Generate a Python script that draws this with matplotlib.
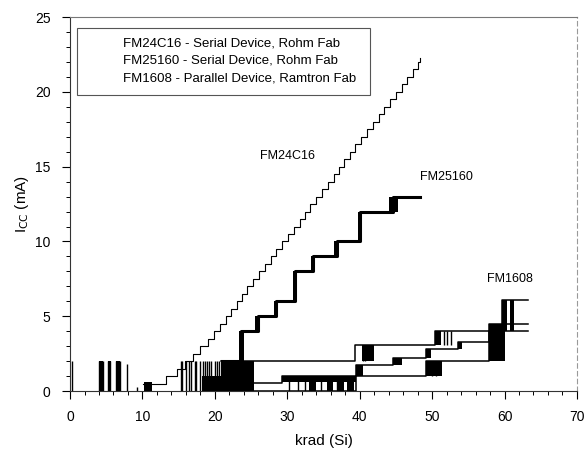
import matplotlib
matplotlib.use("Agg")
import matplotlib.pyplot as plt
from matplotlib.patches import Rectangle
from matplotlib.ticker import MultipleLocator

plt.rcParams['font.family'] = ['Liberation Sans', 'DejaVu Sans']

# FM24C16 - thin staircase (krad, mA)
fm24_x = [10.1, 13.2, 14.8, 15.9, 17.0, 18.0, 19.0, 19.9, 20.7, 21.5, 22.2, 23.0,
          23.7, 24.5, 25.3, 26.1, 26.9, 27.7, 28.5, 29.3, 30.1, 30.9, 31.7, 32.5,
          33.2, 34.0, 34.8, 35.6, 36.4, 37.1, 37.9, 38.6, 39.4, 40.2, 41.0, 41.8,
          42.6, 43.4, 44.2, 45.0, 45.8, 46.6, 47.4, 48.0, 48.3]
fm24_y = [0.5, 1.0, 1.5, 2.0, 2.5, 3.0, 3.5, 4.0, 4.5, 5.0, 5.5, 6.0,
          6.5, 7.0, 7.5, 8.0, 8.5, 9.0, 9.5, 10.0, 10.5, 11.0, 11.5, 12.0,
          12.5, 13.0, 13.5, 14.0, 14.5, 15.0, 15.5, 16.0, 16.5, 17.0, 17.5, 18.0,
          18.5, 19.0, 19.5, 20.0, 20.5, 21.0, 21.5, 22.0, 22.3]

# FM25160 - thick staircase
fm25_x = [21.0, 23.6, 25.9, 28.4, 31.0, 33.5, 36.8, 40.0, 44.6, 48.3]
fm25_y = [2.0, 4.0, 5.0, 6.0, 8.0, 9.0, 10.0, 12.0, 13.0, 13.0]

# FM1608 - three parts
p1_x = [20.8, 39.3, 50.4, 59.6, 63.3]
p1_y = [2.0, 3.07, 4.0, 6.1, 6.1]
p2_x = [25.4, 29.3, 39.5, 44.6, 49.2, 53.6, 57.8, 63.3]
p2_y = [0.55, 1.0, 1.75, 2.2, 2.8, 3.3, 4.5, 4.5]
p3_x = [25.0, 39.5, 49.2, 57.8, 63.3]
p3_y = [0.0, 1.0, 2.0, 4.0, 4.0]

# toggling noise: single spikes (x, top)
spike_x = [0.3, 4.05, 4.5, 5.3, 5.55, 6.35, 6.6, 6.85, 7.9, 9.2,
           15.3, 15.5, 16.0, 16.4, 16.7, 17.2, 17.4, 18.0, 18.3, 18.6,
           18.9, 19.2, 19.4, 20.0, 20.3, 20.6, 30.2, 31.5, 32.4, 34.6,
           36.9, 37.6, 51.6, 52.1, 52.6, 50.0, 50.6, 40.5, 40.8]
spike_top = [2.0, 2.0, 2.0, 2.0, 2.0, 2.0, 2.0, 2.0, 1.8, 0.3,
             2.0, 2.0, 2.0, 2.0, 2.0, 2.0, 2.0, 2.0, 2.0, 2.0,
             2.0, 2.0, 2.0, 2.0, 2.0, 2.0, 1.0, 1.0, 1.0, 1.0,
             1.0, 1.0, 4.0, 4.0, 4.0, 2.0, 2.0, 3.0, 3.0]
spike_bot = [0.0, 0.0, 0.0, 0.0, 0.0, 0.0, 0.0, 0.0, 0.0, 0.0,
             0.0, 0.0, 0.0, 0.0, 0.0, 0.0, 0.0, 0.0, 0.0, 0.0,
             0.0, 0.0, 0.0, 0.0, 0.0, 0.0, 0.0, 0.0, 0.0, 0.0,
             0.0, 0.0, 3.07, 3.07, 3.07, 1.0, 1.0, 2.0, 2.0]

# solid noise blocks (x0, x1, y0, y1)
blk_x0 = [4.0, 5.2, 6.3, 10.2, 18.2, 20.8, 23.3, 25.6, 28.2, 30.8, 33.3, 36.5,
          39.8, 44.1, 29.3, 33.0, 35.5, 36.8, 38.3, 40.3, 50.4, 59.6, 60.8,
          39.5, 44.6, 49.2, 53.6, 57.8, 49.2]
blk_x1 = [4.6, 5.6, 6.9, 11.3, 20.8, 25.4, 24.0, 26.2, 28.6, 31.2, 33.7, 37.0,
          40.3, 45.3, 39.5, 34.0, 36.3, 37.8, 39.2, 42.0, 51.2, 60.3, 61.3,
          40.5, 45.8, 49.9, 54.1, 60.1, 51.3]
blk_y0 = [0.0, 0.0, 0.0, 0.0, 0.0, 0.0, 2.0, 4.0, 5.0, 6.0, 8.0, 9.0,
          10.0, 12.0, 0.6, 0.0, 0.0, 0.0, 0.0, 2.0, 3.07, 4.0, 4.0,
          1.0, 1.75, 2.2, 2.8, 2.0, 1.0]
blk_y1 = [2.0, 2.0, 2.0, 0.6, 1.0, 2.0, 4.0, 5.0, 6.0, 8.0, 9.0, 10.0,
          12.0, 13.0, 1.0, 1.0, 1.0, 1.0, 1.0, 3.07, 4.0, 6.1, 6.1,
          1.75, 2.2, 2.8, 3.3, 4.5, 2.0]

legend_lines = ["FM24C16 - Serial Device, Rohm Fab",
                "FM25160 - Serial Device, Rohm Fab",
                "FM1608 - Parallel Device, Ramtron Fab"]

fig = plt.figure(figsize=(5.86, 4.51), dpi=100)
ax = fig.add_axes([0.1195, 0.133, 0.865, 0.829])

for x0, x1, y0, y1 in zip(blk_x0, blk_x1, blk_y0, blk_y1):
    ax.fill_between([x0, x1], y0, y1, color='black', lw=0)
ax.vlines(spike_x, spike_bot, spike_top, color='black', lw=1.0)

ax.step(fm24_x, fm24_y, where='post', color='black', lw=0.8)
ax.step(fm25_x, fm25_y, where='post', color='black', lw=2.2)
ax.step(p1_x, p1_y, where='post', color='black', lw=1.1)
ax.step(p2_x, p2_y, where='post', color='black', lw=1.1)
ax.step(p3_x, p3_y, where='post', color='black', lw=1.1)

ax.text(30.1, 15.7, "FM24C16", fontsize=9, ha='center', va='center')
ax.text(48.3, 14.3, "FM25160", fontsize=9, ha='left', va='center')
ax.text(60.7, 7.5, "FM1608", fontsize=9, ha='center', va='center')

# legend box (text only)
ax.add_patch(Rectangle((0.013, 0.791), 0.579, 0.18, transform=ax.transAxes,
                       fill=False, ec='#555555', lw=0.8))
for ty, s in zip([0.930, 0.885, 0.837], legend_lines):
    ax.text(0.105, ty, s, transform=ax.transAxes, fontsize=9.5, va='center')

ax.set_xlim(0, 70)
ax.set_ylim(0, 25)
ax.xaxis.set_major_locator(MultipleLocator(10))
ax.xaxis.set_minor_locator(MultipleLocator(2))
ax.yaxis.set_major_locator(MultipleLocator(5))
ax.yaxis.set_minor_locator(MultipleLocator(1))
ax.tick_params(which='major', direction='out', length=6, width=0.8, labelsize=10, pad=8)
ax.tick_params(which='minor', direction='out', length=3, width=0.7)

ax.spines['left'].set_color('#333333')
ax.spines['bottom'].set_color('#333333')
ax.spines['top'].set_color('#777777')
ax.spines['right'].set_color('#999999')
ax.spines['right'].set_linestyle((0, (4, 3)))
for s in ax.spines.values():
    s.set_linewidth(0.8)

ax.set_xlabel("krad (Si)", fontsize=11, labelpad=7)
ax.set_ylabel("I$_{\\mathrm{CC}}$ (mA)", fontsize=11, labelpad=3)

fig.savefig("out.png", dpi=100)
